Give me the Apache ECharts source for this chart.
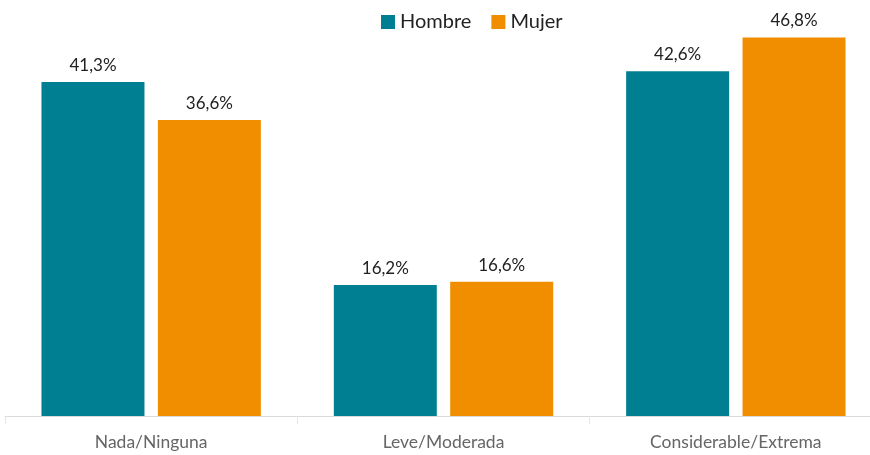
<!DOCTYPE html>
<html>
<head>
<meta charset="utf-8">
<script src="https://cdn.jsdelivr.net/npm/echarts@6/dist/echarts.min.js"></script>
<style>
  html, body { margin: 0; padding: 0; background: #fff; }
  #chart { width: 870px; height: 455px; }
</style>
</head>
<body>
<div id="chart"></div>
<script>
var categories = ['Nada/Ninguna', 'Leve/Moderada', 'Considerable/Extrema']
var hombre = [41.3, 16.2, 42.6]
var mujer = [36.6, 16.6, 46.8]

var font = 'Lato, "Open Sans", sans-serif'

function pct(p) {
    return p.value.toFixed(1).replace('.', ',') + '%'
}

var myChart = echarts.init(document.getElementById('chart'))

var option = {
    animation: false,
    textStyle: { fontFamily: font },
    legend: {
        top: 7,
        left: 376,
        itemWidth: 14,
        itemHeight: 14,
        itemGap: 20,
        icon: 'rect',
        textStyle: { fontSize: 20, color: '#222', fontFamily: font },
        data: ['Hombre', 'Mujer']
    },
    grid: { left: 5, right: -12, top: 11.5, bottom: 39, outerBoundsMode: 'none' },
    xAxis: {
        type: 'category',
        data: categories,
        axisLine: { lineStyle: { color: '#d9d9d9' } },
        axisTick: { show: true, alignWithLabel: false, length: 8, lineStyle: { color: '#e6e6e6' } },
        axisLabel: { fontSize: 17.5, color: '#666', margin: 17, fontFamily: font }
    },
    yAxis: {
        type: 'value',
        min: 0,
        max: 50,
        show: false,
        splitLine: { show: false }
    },
    series: [
        {
            name: 'Hombre',
            type: 'bar',
            data: hombre,
            barWidth: 103,
            barGap: '13%',
            itemStyle: { color: '#007F92' },
            label: { show: true, position: 'top', distance: 8, formatter: pct, fontSize: 17, color: '#222', fontFamily: font }
        },
        {
            name: 'Mujer',
            type: 'bar',
            data: mujer,
            barWidth: 103,
            itemStyle: { color: '#F18E00' },
            label: { show: true, position: 'top', distance: 8, formatter: pct, fontSize: 17, color: '#222', fontFamily: font }
        }
    ]
}

myChart.setOption(option)
</script>
</body>
</html>
